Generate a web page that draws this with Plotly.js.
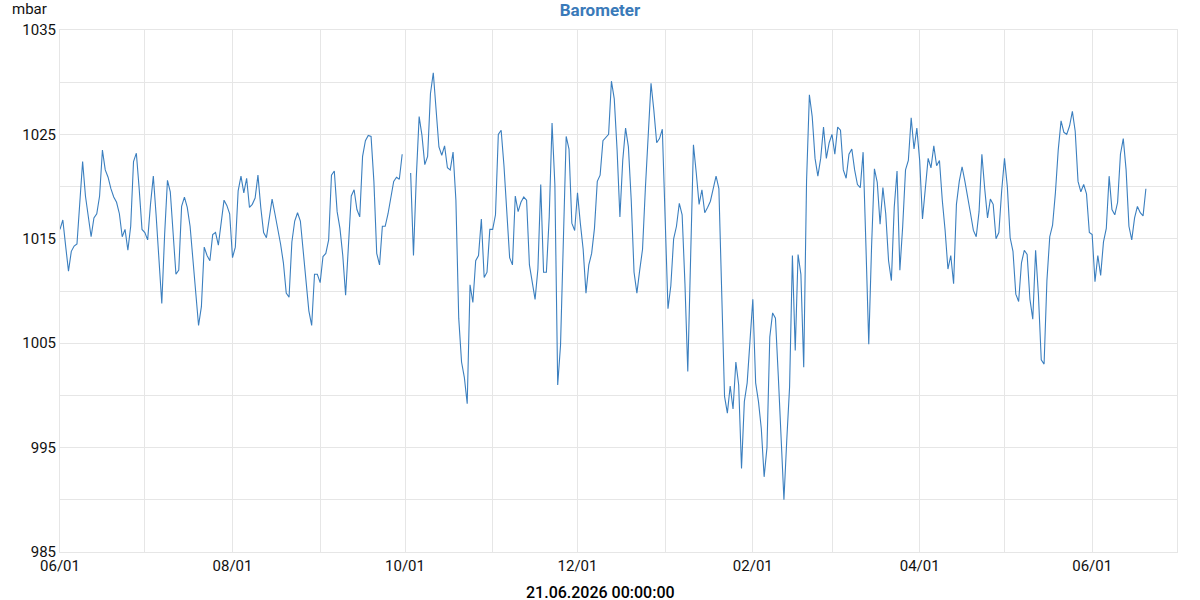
<!DOCTYPE html>
<html>
<head>
<meta charset="utf-8">
<script src="https://cdn.plot.ly/plotly-3.0.1.min.js"></script>
<style>
  html, body { margin: 0; padding: 0; background: #fff; }
  #chart { width: 1200px; height: 600px; }
</style>
</head>
<body>
<div id="chart"></div>
<script>
// Daily barometer readings (mbar), starting 2025-06-01
const startDate = '2025-06-01';
const pressure = [
  1015.9, 1016.8, 1014.3, 1011.9, 1013.8, 1014.3, 1014.5, 1018.0, 1022.4, 1019.1,
  1017.0, 1015.2, 1017.0, 1017.4, 1019.1, 1023.5, 1021.6, 1020.9, 1019.8, 1019.0,
  1018.5, 1017.4, 1015.2, 1015.9, 1013.9, 1016.2, 1022.4, 1023.2, 1019.8, 1015.9,
  1015.6, 1014.9, 1018.3, 1021.0, 1017.2, 1012.5, 1008.8, 1015.4, 1020.6, 1019.5,
  1015.8, 1011.6, 1012.0, 1018.1, 1019.0, 1018.0, 1016.2, 1012.9, 1010.0, 1006.7,
  1008.5, 1014.2, 1013.4, 1012.9, 1015.4, 1015.6, 1014.4, 1016.4, 1018.7, 1018.2,
  1017.4, 1013.2, 1014.2, 1019.6, 1021.0, 1019.4, 1020.8, 1018.0,
  1018.3, 1018.9, 1021.1, 1018.0, 1015.6, 1015.1, 1016.9, 1018.8, 1017.4, 1016.0,
  1014.5, 1012.7, 1009.8, 1009.4, 1014.7, 1016.7, 1017.5, 1016.7, 1013.8, 1011.2,
  1008.1, 1006.7, 1011.6, 1011.6, 1010.8, 1013.3, 1013.6, 1014.9, 1021.1, 1021.5,
  1017.6, 1016.0, 1013.4, 1009.6, 1013.9, 1019.1, 1019.7, 1017.8, 1017.1, 1022.9,
  1024.4, 1024.9, 1024.8, 1020.5, 1013.6, 1012.5, 1016.2, 1016.2, 1017.4, 1018.8,
  1020.5, 1020.9, 1020.7, 1023.1, null, null, 1021.3, 1013.4, 1020.9, 1026.7,
  1024.9, 1022.1, 1022.9, 1028.9, 1030.9, 1027.5, 1023.8, 1023.0, 1023.9, 1021.8,
  1021.6, 1023.3, 1018.7, 1007.4, 1003.2, 1001.7, 999.2, 1010.6, 1008.9, 1012.9,
  1013.4, 1016.9, 1011.3, 1011.8, 1015.9, 1015.9, 1017.3, 1025.0, 1025.4, 1022.0,
  1017.4, 1013.2, 1012.5, 1019.1, 1017.6, 1018.5, 1019.0, 1018.7, 1012.5, 1010.7,
  1009.2, 1012.1, 1020.2, 1011.8, 1011.8, 1017.1, 1026.1, 1020.2, 1001.0, 1004.8,
  1015.1, 1024.8, 1023.6, 1016.5, 1015.8, 1019.4, 1016.5, 1014.0, 1009.8, 1012.5,
  1013.6, 1016.0, 1020.5, 1021.1, 1024.4, 1024.7, 1025.0, 1030.1, 1028.4, 1023.5,
  1017.1, 1022.5, 1025.6, 1023.8, 1018.7, 1011.8, 1009.8, 1012.0, 1014.0, 1019.8,
  1025.6, 1029.9, 1027.3, 1024.2, 1024.6, 1025.5, 1016.9, 1008.3, 1010.5, 1015.0,
  1016.2, 1018.4, 1017.3, 1010.7, 1002.3, 1012.1, 1024.0, 1021.3, 1018.3, 1019.7,
  1017.5, 1018.0, 1018.6, 1019.8, 1021.0, 1019.8, 1010.7, 999.9, 998.3, 1000.9,
  998.7, 1003.2, 1001.0, 993.0, 999.4, 1001.2, 1005.2, 1009.2, 1001.2, 999.4,
  996.8, 992.2, 995.0, 1005.6, 1007.9, 1007.4, 1001.9, 996.4, 990.0, 995.7,
  1000.8, 1013.4, 1004.3, 1013.5, 1011.6, 1002.7, 1020.5, 1028.8, 1026.7, 1022.7,
  1021.0, 1022.7, 1025.7, 1022.7, 1024.2, 1025.0, 1023.1, 1025.7, 1025.4, 1021.6,
  1020.8, 1023.1, 1023.6, 1021.6, 1020.2, 1019.9, 1023.3, 1014.3, 1004.9, 1014.3,
  1021.7, 1020.4, 1016.4, 1019.9, 1017.4, 1012.9, 1011.0, 1018.0, 1021.5, 1012.0,
  1016.2, 1021.6, 1022.5, 1026.6, 1023.6, 1025.6, 1022.5, 1016.9, 1020.2, 1022.7,
  1021.8, 1023.9, 1022.0, 1022.5, 1018.7, 1015.8, 1012.1, 1013.4, 1010.7, 1018.3,
  1020.5, 1021.9, 1020.5, 1019.1, 1017.4, 1015.8, 1015.2, 1017.6, 1023.1, 1019.8,
  1017.0, 1018.8, 1018.3, 1015.0, 1015.6, 1019.6, 1022.7, 1020.0, 1015.1, 1013.8,
  1009.7, 1009.0, 1012.7, 1013.9, 1013.5, 1009.2, 1007.3, 1013.9, 1009.6, 1003.4,
  1003.0, 1011.0, 1015.2, 1016.3, 1019.4, 1023.5, 1026.3, 1025.2, 1025.0, 1025.8,
  1027.2, 1025.3, 1020.5, 1019.5, 1020.2, 1019.3, 1015.6, 1015.4, 1010.9, 1013.4,
  1011.5, 1014.7, 1016.0, 1021.0, 1017.8, 1017.3, 1018.5, 1023.1, 1024.6, 1021.6,
  1016.2, 1014.9, 1017.0, 1018.1, 1017.5, 1017.2, 1019.8
];
const yTickVals = [985, 995, 1005, 1015, 1025, 1035];
const yTickText = ['985', '995', '1005', '1015', '1025', '1035'];
const xRange = ['2025-06-01', '2026-07-01'];
const chartTitle = 'Barometer';
const unitLabel = 'mbar';
const xTitle = '21.06.2026 00:00:00';

// daily dates
const dates = pressure.map((_, i) => {
  const d = new Date(startDate + 'T00:00:00Z');
  d.setUTCDate(d.getUTCDate() + i);
  return d.toISOString().slice(0, 10);
});

const gridColor = '#e6e6e6';
const font = 'Roboto, "Noto Sans", sans-serif';

const trace = {
  x: dates,
  y: pressure,
  type: 'scatter',
  mode: 'lines',
  line: { color: '#3b7fbf', width: 1.1 },
  connectgaps: false,
  hoverinfo: 'x+y'
};

const layout = {
  width: 1200,
  height: 600,
  margin: { l: 60, r: 23, t: 30, b: 48 },
  paper_bgcolor: '#fff',
  plot_bgcolor: '#fff',
  showlegend: false,
  font: { family: font, size: 15, color: '#111' },
  title: {
    text: '<b>' + chartTitle + '</b>',
    x: 0.5, xref: 'container', xanchor: 'center',
    y: 1 - 10 / 600, yref: 'container', yanchor: 'middle',
    font: { family: font, size: 17, color: '#3a7ab9' }
  },
  xaxis: {
    type: 'date',
    range: xRange,
    tick0: '2025-06-01',
    dtick: 'M2',
    tickformat: '%m/%d',
    ticks: '',
    showgrid: true,
    gridcolor: gridColor,
    gridwidth: 1,
    minor: { dtick: 'M1', showgrid: true, gridcolor: gridColor, gridwidth: 1 },
    showline: true, linecolor: gridColor, linewidth: 1, mirror: true,
    zeroline: false,
    tickfont: { family: font, size: 15, color: '#111' },
    fixedrange: true
  },
  yaxis: {
    range: [985, 1035],
    tickvals: yTickVals,
    ticktext: yTickText,
    ticks: '',
    showgrid: true,
    gridcolor: gridColor,
    gridwidth: 1,
    minor: { dtick: 5, tick0: 985, showgrid: true, gridcolor: gridColor, gridwidth: 1 },
    showline: true, linecolor: gridColor, linewidth: 1, mirror: true,
    zeroline: false,
    tickfont: { family: font, size: 15, color: '#111' },
    fixedrange: true
  },
  annotations: [
    {
      text: unitLabel, xref: 'paper', yref: 'paper',
      x: -50 / 1117, y: 1 + 21 / 522, xanchor: 'left', yanchor: 'middle',
      showarrow: false, font: { family: font, size: 15, color: '#111' }
    },
    {
      text: xTitle, xref: 'paper', yref: 'paper',
      x: (600 - 60) / 1117, y: -40 / 522, xanchor: 'center', yanchor: 'middle',
      showarrow: false, font: { family: font, size: 16, color: '#000', weight: 500 }
    }
  ]
};

Plotly.newPlot('chart', [trace], layout, { displayModeBar: false, staticPlot: true });
</script>
</body>
</html>
